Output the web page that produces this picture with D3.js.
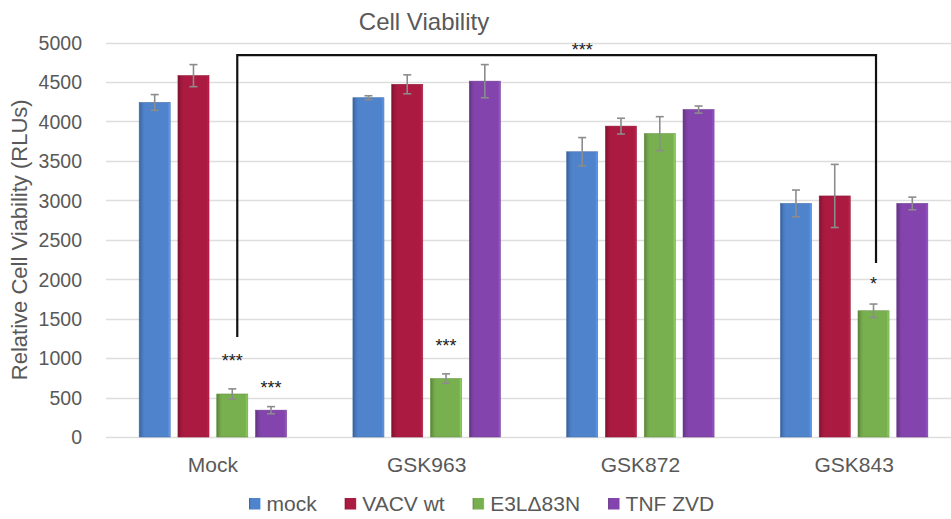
<!DOCTYPE html>
<html>
<head>
<meta charset="utf-8">
<script src="https://cdn.jsdelivr.net/npm/d3@7"></script>
<style>
  html, body { margin: 0; padding: 0; background: #fff; }
  svg { display: block; font-family: "Liberation Sans", Arial, sans-serif; }
</style>
</head>
<body>
<svg id="chart" width="951" height="519"></svg>
<script>
// Treatment groups along the x axis
const categories = ["Mock", "GSK963", "GSK872", "GSK843"];
// Infection conditions (one bar per condition in each group)
const seriesNames = ["mock", "VACV wt", "E3L\u039483N", "TNF ZVD"];
const seriesColors = ["#4f83cc", "#ab1a40", "#79b04f", "#8345ad"];

// Mean viability (RLUs), indexed [category][series]
const mockValues    = [4240, 4300, 3615, 2960];
const vacvValues    = [4580, 4470, 3940, 3055];
const e3lValues     = [ 545,  740, 3845, 1600];
const tnfzvdValues  = [ 340, 4510, 4150, 2960];
const seriesValues  = [mockValues, vacvValues, e3lValues, tnfzvdValues];

// Error (± RLUs)
const mockErrors   = [100,  25, 180, 170];
const vacvErrors   = [140, 120, 100, 400];
const e3lErrors    = [ 65,  60, 215,  85];
const tnfzvdErrors = [ 45, 210,  45,  80];
const seriesErrors = [mockErrors, vacvErrors, e3lErrors, tnfzvdErrors];

const yTicks = [0, 500, 1000, 1500, 2000, 2500, 3000, 3500, 4000, 4500, 5000];

// Significance marks: [category, series index, label, value where the label sits]
const sigCats   = ["Mock", "Mock", "GSK963", "GSK843", "GSK872"];
const sigSeries = [2, 3, 2, 2, 0];
const sigLabels = ["***", "***", "***", "*", "***"];
const sigLevels = [1010, 672, 1204, 1990, 4950];

// Comparison bracket from Mock / E3LΔ83N to GSK843 / E3LΔ83N
const bracketEnds   = [["Mock", 2], ["GSK843", 2]];
const bracketTop    = 4840;
const bracketBottom = [1267, 2205];

const svg = d3.select("#chart");
const margin = { left: 106, right: -10, top: 42.5, bottom: 82 };
const W = 951, H = 519;

const x0 = d3.scaleBand().domain(categories)
  .range([margin.left, W - margin.right]).paddingInner(0).paddingOuter(0);
const groupWidth = 147.4;
const x1 = d3.scaleBand().domain(d3.range(seriesNames.length))
  .range([0, groupWidth]).paddingInner(0.2).paddingOuter(0);
const y = d3.scaleLinear().domain([0, 5000]).range([H - margin.bottom, margin.top]);

const barX = (cat, s) => x0(cat) + x0.bandwidth() / 2 - groupWidth / 2 + x1(s);
const barCx = (cat, s) => barX(cat, s) + x1.bandwidth() / 2;

// Gradients giving each bar a shaded left edge
const defs = svg.append("defs");
seriesColors.forEach((c, i) => {
  const g = defs.append("linearGradient").attr("id", "grad" + i)
    .attr("x1", "0%").attr("x2", "100%").attr("y1", "0%").attr("y2", "0%");
  const base = d3.color(c);
  g.append("stop").attr("offset", "0%").attr("stop-color", base.darker(0.9));
  g.append("stop").attr("offset", "10%").attr("stop-color", base.darker(0.2));
  g.append("stop").attr("offset", "18%").attr("stop-color", base);
  g.append("stop").attr("offset", "92%").attr("stop-color", base);
  g.append("stop").attr("offset", "100%").attr("stop-color", base.brighter(0.6));
});

// Horizontal gridlines
const grid = svg.append("g");
grid.selectAll("line").data(yTicks).join("line")
  .attr("x1", margin.left).attr("x2", W)
  .attr("y1", d => Math.round(y(d)) + 0.5).attr("y2", d => Math.round(y(d)) + 0.5)
  .attr("stroke", "#dedede").attr("stroke-width", 1.3);

// Y axis tick labels
const yAxis = d3.axisLeft(y).tickValues(yTicks).tickFormat(d3.format("d"))
  .tickSize(0).tickPadding(0);
const yg = svg.append("g").attr("transform", `translate(${margin.left - 24},0)`).call(yAxis);
yg.select(".domain").remove();
yg.selectAll("text").attr("font-size", 19.5).attr("fill", "#595959")
  .attr("font-family", "Liberation Sans, Arial, sans-serif").attr("dy", "0.35em");

// X axis category labels
const xAxis = d3.axisBottom(x0).tickSize(0).tickPadding(0);
const xg = svg.append("g").attr("transform", `translate(0,${H - margin.bottom})`).call(xAxis);
xg.select(".domain").remove();
xg.selectAll("text").attr("font-size", 21).attr("fill", "#595959")
  .attr("font-family", "Liberation Sans, Arial, sans-serif").attr("dy", "35px");

// Bars
const barData = [];
categories.forEach((cat, ci) => {
  seriesNames.forEach((s, si) => {
    barData.push({ cat, si, v: seriesValues[si][ci], e: seriesErrors[si][ci] });
  });
});

svg.append("g").selectAll("rect").data(barData).join("rect")
  .attr("x", d => barX(d.cat, d.si))
  .attr("width", x1.bandwidth())
  .attr("y", d => y(d.v))
  .attr("height", d => y(0) - y(d.v))
  .attr("fill", d => `url(#grad${d.si})`)
  .attr("stroke", d => d3.color(seriesColors[d.si]).darker(0.5))
  .attr("stroke-width", 0.6);

// Error bars
const eb = svg.append("g").attr("stroke", "#8c8c8c").attr("stroke-width", 1.6);
barData.forEach(d => {
  const cx = barCx(d.cat, d.si);
  eb.append("line").attr("x1", cx).attr("x2", cx)
    .attr("y1", y(d.v + d.e)).attr("y2", y(d.v - d.e));
  [d.v + d.e, d.v - d.e].forEach(v => {
    eb.append("line").attr("x1", cx - 4).attr("x2", cx + 4)
      .attr("y1", y(v)).attr("y2", y(v));
  });
});

// Comparison bracket
const bxL = barCx(bracketEnds[0][0], bracketEnds[0][1]) + 5;
const bxR = barCx(bracketEnds[1][0], bracketEnds[1][1]) + 2.5;
svg.append("path")
  .attr("d", `M${bxL},${y(bracketBottom[0])} L${bxL},${y(bracketTop)} L${bxR},${y(bracketTop)} L${bxR},${y(bracketBottom[1])}`)
  .attr("fill", "none").attr("stroke", "#111").attr("stroke-width", 2.2);

// Significance asterisks
svg.append("g").selectAll("text").data(sigLabels).join("text")
  .attr("x", (d, i) => barCx(sigCats[i], sigSeries[i]))
  .attr("y", (d, i) => y(sigLevels[i]) + 10)
  .attr("text-anchor", "middle")
  .attr("font-size", 18).attr("fill", "#222")
  .text(d => d);

// Title
svg.append("text").attr("x", 424).attr("y", 30)
  .attr("text-anchor", "middle").attr("font-size", 24).attr("fill", "#595959")
  .text("Cell Viability");

// Y axis title
svg.append("text")
  .attr("transform", `translate(27,${(y(0) + y(5000)) / 2}) rotate(-90)`)
  .attr("text-anchor", "middle").attr("font-size", 22).attr("fill", "#595959")
  .text("Relative Cell Viability (RLUs)");

// Legend
const legend = svg.append("g").attr("transform", "translate(249,498)");
let lx = 0;
seriesNames.forEach((name, i) => {
  const item = legend.append("g").attr("transform", `translate(${lx},0)`);
  item.append("rect").attr("width", 11.5).attr("height", 11.5)
    .attr("fill", `url(#grad${i})`);
  const t = item.append("text").attr("x", 17.5).attr("y", 13)
    .attr("font-size", 21).attr("fill", "#595959").text(name);
  lx += 17.5 + t.node().getComputedTextLength() + 28;
});
</script>
</body>
</html>
